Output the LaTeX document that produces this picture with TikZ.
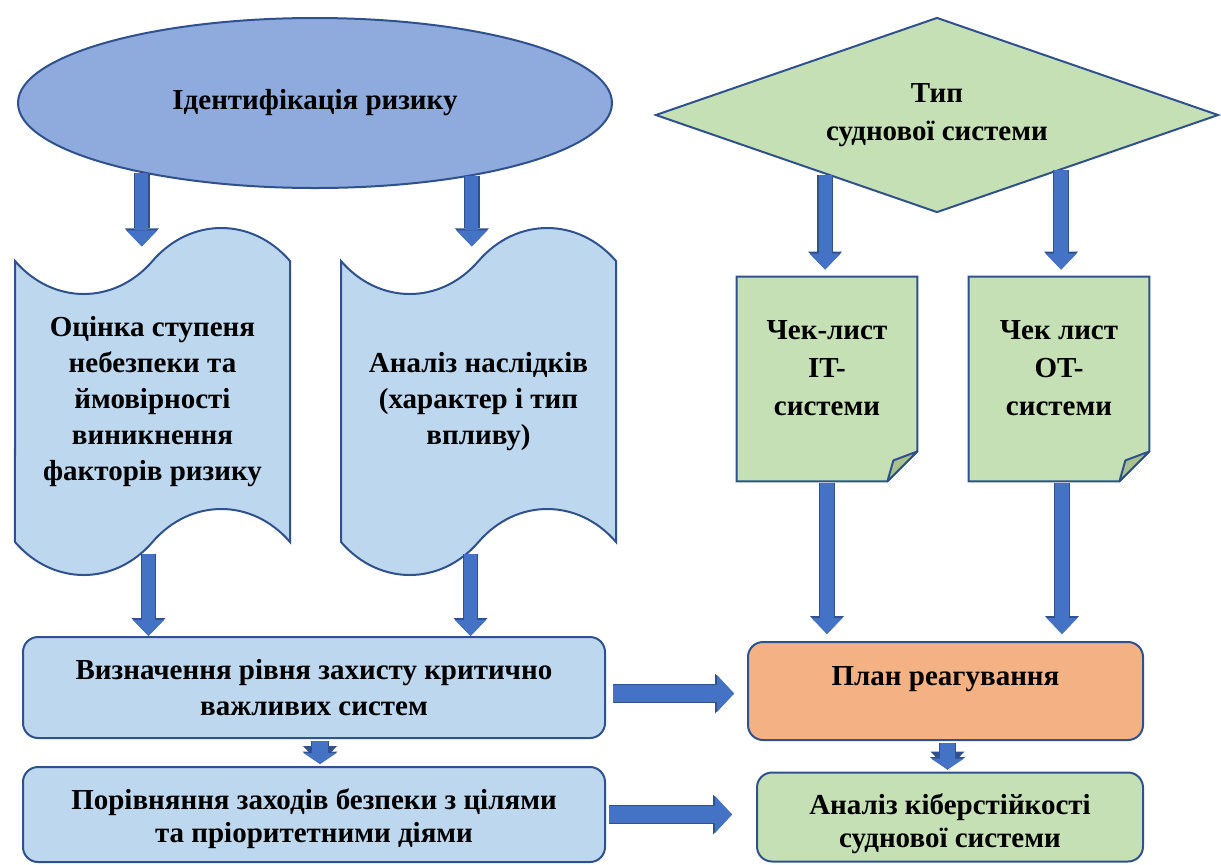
\documentclass[tikz,border=0pt]{standalone}
\usepackage{fontspec}
\setmainfont{Liberation Serif}
\usetikzlibrary{arrows.meta,calc,positioning,shapes.geometric,shapes.symbols,backgrounds}
\definecolor{riskfill}{HTML}{8FAADC}
\definecolor{edgeblue}{HTML}{2F528F}
\definecolor{paleblue}{HTML}{BDD7EE}
\definecolor{palegreen}{HTML}{C5E0B4}
\definecolor{foldgreen}{HTML}{A9C18F}
\definecolor{planorange}{HTML}{F4B183}
\definecolor{arrowblue}{HTML}{4472C4}

\begin{document}
\begin{tikzpicture}[x=0.5pt,y=-0.5pt,
 every node/.style={font=\fontsize{14.5}{18}\selectfont\bfseries,align=center},
 shapeline/.style={draw=edgeblue,line width=1pt},
 riskell/.style={shapeline,ellipse,fill=riskfill,minimum width=297pt,minimum height=85pt,inner sep=0pt},
 sysdiam/.style={shapeline,diamond,fill=palegreen,aspect=2.9,minimum width=281.5pt,minimum height=97.5pt,inner sep=0pt,
  font=\fontsize{14.5}{19}\selectfont\bfseries},
 tapebox/.style={shapeline,tape,fill=paleblue,minimum width=137.5pt,minimum height=173.5pt,tape bend height=33pt,inner sep=0pt},
 notebox/.style={minimum width=90pt,minimum height=102pt,inner sep=0pt,text depth=11pt,
  font=\fontsize{14.5}{19}\selectfont\bfseries},
 roundbox/.style={shapeline,rounded corners=7.5pt,inner sep=0pt},
 lowbox/.style={roundbox,font=\fontsize{14.5}{16.5}\selectfont\bfseries},
 flow/.style={arrowblue,line width=6.6pt,-{Triangle[width=15.5pt,length=8pt,line width=0pt]},
  preaction={draw=edgeblue,line width=7.8pt,-{Triangle[width=17pt,length=9pt,line width=0pt]}}},
 sideflow/.style={flow,line width=8.2pt,-{Triangle[width=18.5pt,length=8.5pt,line width=0pt]},
  preaction={draw=edgeblue,line width=9.4pt,-{Triangle[width=20pt,length=9.5pt,line width=0pt]}}},
 stepflow/.style={flow,line width=7.6pt,-{Triangle[width=16.5pt,length=5.5pt,line width=0pt]},
  preaction={draw=edgeblue,line width=8.6pt,-{Triangle[width=17.7pt,length=6.2pt,line width=0pt]}}}]
\useasboundingbox (0,0) rectangle (1221,864);

\node[riskell] (idrisk) at (315,103) {Ідентифікація ризику};
\node[sysdiam] (systype) at (937,115) {Тип\\суднової системи};

\node[tapebox] (assess) at (152.5,401.5)
 {Оцінка ступеня\\небезпеки та\\ймовірності\\виникнення\\факторів ризику};
\node[tapebox] (conseq) at (478.5,401.5) {Аналіз наслідків\\(характер і тип\\впливу)};
\node[notebox] (itlist) at (827,379) {Чек-лист\\IT-\\системи};
\node[notebox] (otlist) at (1059,379) {Чек лист\\OT-\\системи};

\node[roundbox,fill=paleblue,minimum width=291pt,minimum height=50.5pt] (protect) at (314,687.5)
 {Визначення рівня захисту критично\\важливих систем};
\node[lowbox,fill=paleblue,minimum width=291pt,minimum height=47.5pt,text height=31.5pt] (compare) at (314,814.5)
 {Порівняння заходів безпеки з цілями\\та пріоритетними діями};
\node[roundbox,fill=planorange,minimum width=197.5pt,minimum height=49pt] (plan) at (945.5,691)
 {План реагування\\[-3pt]\mbox{}};
\node[lowbox,fill=palegreen,minimum width=193pt,minimum height=44.5pt,text height=33.5pt] (resil) at (950,817)
 {Аналіз кіберстійкості\\суднової системи};

\begin{scope}[on background layer]
\foreach \n in {itlist,otlist}{
 \filldraw[shapeline,fill=palegreen] (\n.north west) -- (\n.north east) -- ([yshift=15pt]\n.south east)
  -- ([xshift=-15pt]\n.south east) -- (\n.south west) -- cycle;
 \filldraw[shapeline,fill=foldgreen,line join=round] ([yshift=15pt]\n.south east)
  -- ([xshift=-12pt,yshift=10.5pt]\n.south east) -- ([xshift=-15pt]\n.south east) -- cycle;
}
\end{scope}

\draw[flow,shorten >=6.5pt] (idrisk.202) -- (idrisk.202 |- assess.north);
\draw[flow,shorten >=6.5pt] (idrisk.335) -- (idrisk.335 |- conseq.north);
\draw[flow,shorten >=3.5pt] (systype.208) -- (systype.208 |- itlist.north);
\draw[flow,shorten >=3.5pt] (systype.336) -- (systype.336 |- otlist.north);
\draw[flow,shorten <=5pt] ([xshift=-2pt]assess.south) -- ([xshift=-2pt]assess.south |- protect.north);
\draw[flow,shorten <=5pt] ([xshift=-4pt]conseq.south) -- ([xshift=-4pt]conseq.south |- protect.north);
\draw[flow,shorten <=1pt,shorten >=3.5pt] (itlist.south) -- (itlist.south |- plan.north);
\draw[flow,shorten <=1pt,shorten >=3.5pt] ([xshift=1.5pt]otlist.south) -- ([xshift=1.5pt]otlist.south |- plan.north);
\draw[sideflow,shorten <=3.5pt,shorten >=6.5pt] ([yshift=-3pt]protect.east) -- ([yshift=-3pt]protect.east -| plan.west);
\draw[sideflow,shorten <=1.5pt,shorten >=12pt] (compare.east) -- (compare.east -| resil.west);
\draw[stepflow,shorten <=1pt,shorten >=1pt] ([xshift=3pt]protect.south) -- ([xshift=3pt]compare.north);
\draw[stepflow,shorten <=1pt,shorten >=1pt] ([xshift=1pt]plan.south) -- ([xshift=1pt]plan.south |- resil.north);
\end{tikzpicture}
\end{document}
